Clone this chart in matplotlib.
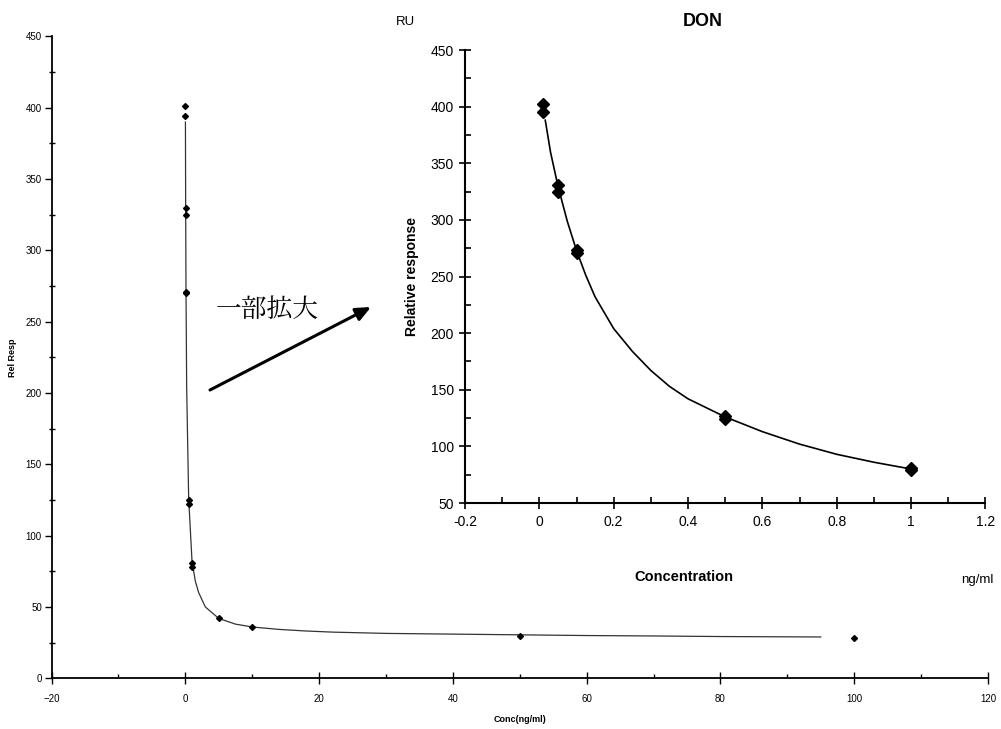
import matplotlib
matplotlib.use("Agg")
import matplotlib.pyplot as plt
from matplotlib.ticker import MultipleLocator

# ---- data ----
conc_points = [0.01, 0.01, 0.05, 0.05, 0.1, 0.1, 0.5, 0.5, 1.0, 1.0]
resp_points = [402, 395, 331, 325, 273, 271, 127, 124, 81, 79]

main_conc_points = [0.01, 0.01, 0.05, 0.05, 0.1, 0.1, 0.5, 0.5, 1.0, 1.0, 5, 10, 50, 100]
main_resp_points = [401, 394, 330, 325, 271, 270, 125, 122, 81, 78, 42, 36, 30, 28.5]

inset_curve_x = [0.016, 0.03, 0.05, 0.075, 0.1, 0.125, 0.15, 0.2, 0.25, 0.3, 0.35,
                 0.4, 0.5, 0.6, 0.7, 0.8, 0.9, 1.0]
inset_curve_y = [388, 360, 330, 299, 273, 251, 232, 204, 184, 167, 153,
                 142, 126, 113, 102, 93, 86, 80]

main_curve_x = [0.016, 0.05, 0.1, 0.2, 0.5, 1, 1.5, 2, 3, 5, 7.5, 10, 14, 18, 22,
                30, 40, 50, 60, 70, 80, 95]
main_curve_y = [390, 330, 273, 204, 126, 82, 68, 60, 50, 42, 38, 36, 34.3, 33.2, 32.4,
                31.5, 31, 30.5, 30, 29.7, 29.3, 29]

main_xticks = [-20, 0, 20, 40, 60, 80, 100, 120]
main_yticks = [0, 50, 100, 150, 200, 250, 300, 350, 400, 450]
inset_xticks = [-0.2, 0, 0.2, 0.4, 0.6, 0.8, 1, 1.2]
inset_xticklabels = ["-0.2", "0", "0.2", "0.4", "0.6", "0.8", "1", "1.2"]
inset_yticks = [50, 100, 150, 200, 250, 300, 350, 400, 450]

narrow = ["Liberation Sans Narrow", "Liberation Sans", "DejaVu Sans"]
arial = ["Liberation Sans", "DejaVu Sans"]

fig = plt.figure(figsize=(10.01, 7.29), dpi=100)
fig.patch.set_facecolor("white")

# ---- main axes ----
ax = fig.add_axes([0.0515, 0.0695, 0.9355, 0.8805])
ax.plot(main_curve_x, main_curve_y, color="#333333", lw=0.9, zorder=2)
ax.plot(main_conc_points, main_resp_points, linestyle="none", marker="D",
        ms=3, color="black", zorder=3)
ax.set_xlim(-20, 120)
ax.set_ylim(0, 450)
ax.set_xticks(main_xticks)
ax.set_yticks(main_yticks)
ax.xaxis.set_minor_locator(MultipleLocator(10))
ax.yaxis.set_minor_locator(MultipleLocator(25))
for s in ["top", "right"]:
    ax.spines[s].set_visible(False)
for s in ["left", "bottom"]:
    ax.spines[s].set_linewidth(1.3)
ax.tick_params(axis="x", which="major", direction="inout", length=8, width=1, labelsize=7, pad=7)
ax.tick_params(axis="x", which="minor", direction="in", length=3, width=1)
ax.tick_params(axis="y", which="major", direction="out", length=5, width=1, labelsize=7, pad=2)
ax.tick_params(axis="y", which="minor", direction="inout", length=4, width=1)
for lab in ax.get_xticklabels() + ax.get_yticklabels():
    lab.set_family(narrow)
ax.set_xlabel("Conc(ng/ml)", fontsize=6.5, family=narrow, fontweight="bold", labelpad=8)
ax.set_ylabel("Rel Resp", fontsize=6.5, family=narrow, fontweight="bold", labelpad=6)

# ---- inset axes ----
ins = fig.add_axes([0.4645, 0.31, 0.52, 0.6214])
ins.set_facecolor("white")
ins.plot(inset_curve_x, inset_curve_y, color="black", lw=1.2, zorder=2)
ins.plot(conc_points, resp_points, linestyle="none", marker="D",
         ms=6.5, color="black", zorder=3)
ins.set_xlim(-0.2, 1.2)
ins.set_ylim(50, 450)
ins.set_xticks(inset_xticks)
ins.set_xticklabels(inset_xticklabels)
ins.set_yticks(inset_yticks)
ins.xaxis.set_minor_locator(MultipleLocator(0.1))
ins.yaxis.set_minor_locator(MultipleLocator(25))
for s in ["top", "right"]:
    ins.spines[s].set_visible(False)
for s in ["left", "bottom"]:
    ins.spines[s].set_linewidth(1.5)
ins.tick_params(axis="both", which="major", direction="inout", length=9, width=1.2, labelsize=10)
ins.tick_params(axis="both", which="minor", direction="in", length=4, width=1.2)
ins.tick_params(axis="x", which="major", pad=4)
for lab in ins.get_xticklabels() + ins.get_yticklabels():
    lab.set_family(arial)
ins.set_xlabel("Concentration", fontsize=10.5, family=arial, fontweight="bold")
ins.xaxis.set_label_coords(0.42, -0.148)
ins.set_ylabel("Relative response", fontsize=10, family=arial, fontweight="bold", labelpad=8)

fig.text(405 / 1001, 1 - 22 / 729, "RU", fontsize=9.5, family=arial, ha="center", va="center")
fig.text(703 / 1001, 1 - 22 / 729, "DON", fontsize=13, family=arial, fontweight="bold",
         ha="center", va="center")
fig.text(977 / 1001, 1 - 580 / 729, "ng/ml", fontsize=9.5, family=arial, ha="center", va="center")

# ---- annotation ----
fig.text(216 / 1001, 1 - 310 / 729, "一部拡大", fontsize=18.5,
         family=["Noto Serif CJK JP", "Noto Sans CJK JP", "DejaVu Sans"],
         ha="left", va="center")
ax.annotate("", xy=(371 / 1001, 1 - 307 / 729), xytext=(210 / 1001, 1 - 390 / 729),
            xycoords="figure fraction", textcoords="figure fraction",
            arrowprops=dict(arrowstyle="-|>,head_length=0.9,head_width=0.4",
                            color="black", lw=2.2, shrinkA=0, shrinkB=0))

fig.savefig("out.png", dpi=100, facecolor="white")
